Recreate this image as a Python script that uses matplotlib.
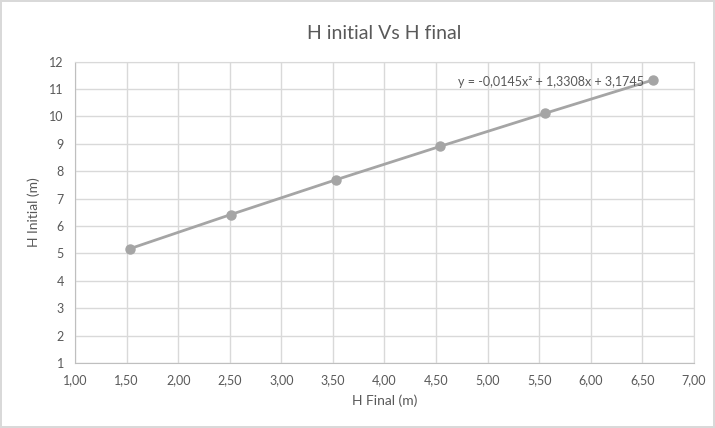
import matplotlib
matplotlib.use("Agg")
import matplotlib.pyplot as plt
from matplotlib.ticker import FuncFormatter, MultipleLocator

# Measured heights
h_final = [1.53, 2.51, 3.53, 4.54, 5.56, 6.60]
h_initial = [5.17, 6.42, 7.69, 8.91, 10.12, 11.33]
equation = "y = -0,0145x² + 1,3308x + 3,1745"

plt.rcParams["font.family"] = ["Lato", "DejaVu Sans"]

fig = plt.figure(figsize=(7.15, 4.28), dpi=100)
fig.patch.set_facecolor("white")
fig.patch.set_edgecolor("#D9D9D9")
fig.patch.set_linewidth(1.5)

ax = fig.add_axes([0.1049, 0.1519, 0.8657, 0.7039])
ax.plot(h_final, h_initial, color="#A5A5A5", lw=2, marker="o",
        markersize=6.5, markerfacecolor="#A5A5A5", markeredgecolor="#A5A5A5",
        zorder=3)

ax.set_xlim(1, 7)
ax.set_ylim(1, 12)
ax.xaxis.set_major_locator(MultipleLocator(0.5))
ax.yaxis.set_major_locator(MultipleLocator(1))
ax.xaxis.set_major_formatter(FuncFormatter(lambda v, p: f"{v:.2f}".replace(".", ",")))
ax.yaxis.set_major_formatter(FuncFormatter(lambda v, p: f"{v:.0f}"))

ax.grid(True, color="#D9D9D9", lw=1)
ax.set_axisbelow(True)
for side in ["top", "right"]:
    ax.spines[side].set_color("#D9D9D9")
for side in ["left", "bottom"]:
    ax.spines[side].set_color("#BFBFBF")
ax.tick_params(length=0, colors="#595959", labelsize=9, pad=8)

ax.set_xlabel("H Final (m)", color="#595959", fontsize=10, labelpad=6)
ax.set_ylabel("H Initial (m)", color="#595959", fontsize=10, labelpad=7)
ax.set_title("H initial Vs H final", color="#595959", fontsize=14, pad=16)

ax.text(6.52, 11.25, equation, color="#595959", fontsize=9,
        ha="right", va="center", zorder=4)

fig.savefig("out.png", dpi=100, facecolor=fig.get_facecolor(),
            edgecolor=fig.get_edgecolor())
